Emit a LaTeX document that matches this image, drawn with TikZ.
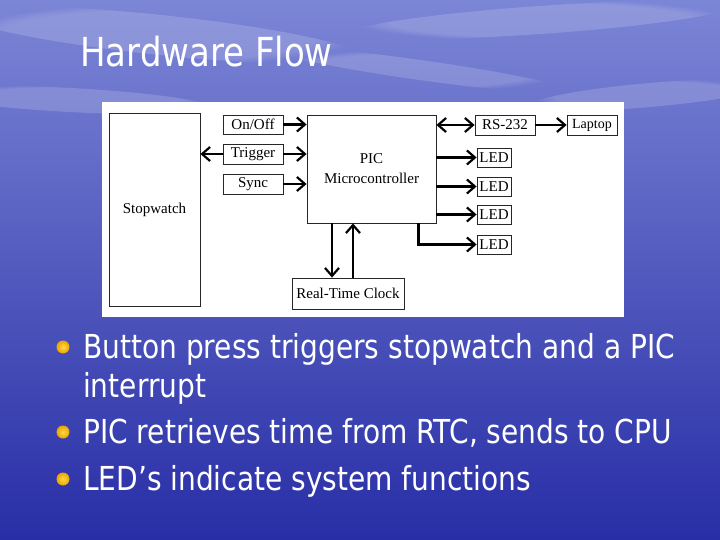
\documentclass[tikz,border=0pt]{standalone}
\usepackage{fontspec}
\setmainfont{DejaVu Sans}[FakeStretch=0.85]
\newfontfamily\diagfont{Liberation Serif}
\usetikzlibrary{arrows.meta,fadings}

\definecolor{skytop}{RGB}{124,134,214}
\definecolor{skymid}{RGB}{64,72,188}
\definecolor{skylow}{RGB}{40,46,166}
\definecolor{bulletin}{RGB}{255,224,60}
\definecolor{bulletout}{RGB}{236,160,10}

\begin{document}
\begin{tikzpicture}[x=1pt, y=-1pt,
  blk/.style={draw=black!85, line width=0.8pt, fill=white, inner sep=0pt,
    font=\diagfont\fontsize{15}{20}\selectfont},
  conn/.style={black, line width=2.2pt, -{Straight Barb[length=8pt,width=14pt]}},
  biconn/.style={black, line width=2.2pt,
    {Straight Barb[length=8pt,width=14pt]}-{Straight Barb[length=8pt,width=14pt]}},
  cloud/.style={white, opacity=0.16, path fading=circle with fuzzy edge 20 percent},
  bullettext/.style={anchor=base west, inner sep=0pt, text=white,
    font=\fontsize{33}{33}\selectfont},
  dot/.style={circle, inner sep=0pt, minimum size=13pt, shading=radial,
    inner color=bulletin, outer color=bulletout}]
  \useasboundingbox (0,0) rectangle (720,540);
  \shade[top color=skytop, middle color=skymid, bottom color=skylow] (0,0) rectangle (720,540);
  % light streaks in the sky
  \fill[cloud, rotate around={-6:(160,35)}] (160,35) ellipse (200 and 20);
  \fill[cloud, rotate around={4:(540,20)}] (540,20) ellipse (190 and 14);
  \fill[cloud, rotate around={-3:(70,100)}] (70,100) ellipse (140 and 12);
  \fill[cloud, rotate around={5:(650,95)}] (650,95) ellipse (120 and 12);
  \fill[cloud, rotate around={-8:(420,70)}] (420,70) ellipse (150 and 10);

  \node[anchor=base west, inner sep=0pt, text=white, font=\fontsize{40}{40}\selectfont] (title) at (80,67) {Hardware Flow};

  % diagram panel
  \fill[white] (102,102) rectangle (624,317);
  \node[blk, minimum width=91pt, minimum height=193pt] (stopwatch) at (154.5,209.5) {Stopwatch};
  \node[blk, minimum width=60pt, minimum height=19pt] (onoff) at (253,124.5) {On/Off};
  \node[blk, minimum width=60pt, minimum height=20pt] (trigger) at (253,154) {Trigger};
  \node[blk, minimum width=60pt, minimum height=20pt] (sync) at (253,184) {Sync};
  \node[blk, minimum width=129pt, minimum height=108pt, align=center] (pic) at (371.5,169) {PIC\\Microcontroller};
  \node[blk, minimum width=112pt, minimum height=31pt] (rtc) at (348,293.5) {Real-Time Clock};
  \node[blk, minimum width=60pt, minimum height=20pt] (rs) at (505,125) {RS-232};
  \node[blk, minimum width=50pt, minimum height=20pt, font=\diagfont\fontsize{14}{14}\selectfont] (laptop) at (592,125) {Laptop};
  \node[blk, minimum width=34pt, minimum height=19pt] (led1) at (494,157.5) {LED};
  \node[blk, minimum width=34pt, minimum height=19pt] (led2) at (494,186.5) {LED};
  \node[blk, minimum width=34pt, minimum height=19pt] (led3) at (494,214.5) {LED};
  \node[blk, minimum width=34pt, minimum height=19pt] (led4) at (494,244.5) {LED};

  \draw[conn] (onoff.east) -- (onoff.east -| pic.west);
  \draw[conn] (trigger.east) -- (trigger.east -| pic.west);
  \draw[conn] (trigger.west) -- (trigger.west -| stopwatch.east);
  \draw[conn] (sync.east) -- (sync.east -| pic.west);
  \draw[biconn] (rs.west -| pic.east) -- (rs.west);
  \draw[conn] (rs.east) -- (laptop.west);
  \draw[conn] (led1.west -| pic.east) -- (led1.west);
  \draw[conn] (led2.west -| pic.east) -- (led2.west);
  \draw[conn] (led3.west -| pic.east) -- (led3.west);
  \draw[conn] ([xshift=-18pt]pic.south east) |- (led4.west);
  \draw[conn] ([xshift=-16pt]rtc.north |- pic.south) -- ([xshift=-16pt]rtc.north);
  \draw[conn] ([xshift=5pt]rtc.north) -- ([xshift=5pt]rtc.north |- pic.south);

  % bullet list
  \node[dot] (b1) at (63,347) {};
  \node[dot] (b2) at (63,432) {};
  \node[dot] (b3) at (63,479) {};
  \node[bullettext] (t1) at (83,358) {Button press triggers stopwatch and a PIC};
  \node[bullettext] (t1b) at (83,397) {interrupt};
  \node[bullettext] (t2) at (83,443) {PIC retrieves time from RTC, sends to CPU};
  \node[bullettext] (t3) at (83,490) {LED’s indicate system functions};
\end{tikzpicture}
\end{document}
